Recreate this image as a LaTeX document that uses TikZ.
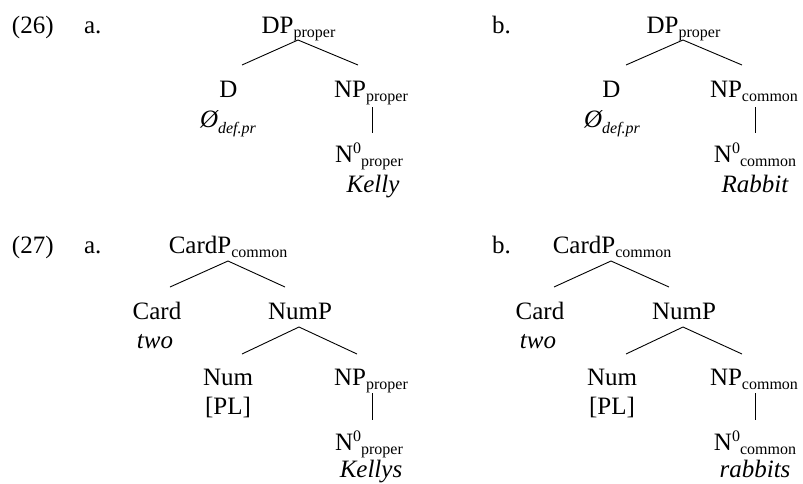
\documentclass[tikz,border=0pt]{standalone}
\usepackage{fontspec}
\setmainfont{Liberation Serif}
\usetikzlibrary{calc}

% category labels: subscripts and superscripts set inline, Word style
\newcommand\lsub[1]{\raisebox{-4pt}{\fontsize{16}{16}\selectfont #1}}
\newcommand\lsubit[1]{\raisebox{-6pt}{\fontsize{16}{16}\selectfont\itshape #1}}
\newcommand\lsup[1]{\raisebox{9pt}{\fontsize{16}{16}\selectfont #1}}

\begin{document}
\begin{tikzpicture}[x=1pt,y=-1pt,
  lbl/.style={inner sep=0pt,outer sep=0pt,anchor=base,font=\fontsize{25}{30}\selectfont},
  numlbl/.style={lbl,anchor=base west},
  branch/.style={line width=0.9pt,line cap=butt}]
\fill[white] (0,0) rectangle (803,483);
\useasboundingbox (0,0) rectangle (803,483);

% ---------- example numbers ----------
\node[numlbl] (ex26) at (12,33) {(26)};
\node[numlbl] (ex26a) at (84,33) {a.};
\node[numlbl] (ex26b) at (492,33) {b.};
\node[numlbl] (ex27) at (12,253) {(27)};
\node[numlbl] (ex27a) at (84,253) {a.};
\node[numlbl] (ex27b) at (492,253) {b.};

% ---------- (26a) ----------
\node[lbl] (dp1) at (298.5,33) {DP\lsub{proper}};
\node[lbl] (d1) at (228.5,97) {D};
\node[lbl] (d1w) at (228,127.5) {\itshape Ø\lsubit{def.pr}};
\node[lbl] (np1) at (371,97) {NP\lsub{proper}};
\node[lbl] (n1) at (369,162) {N\lsup{0}\lsub{proper}};
\node[lbl] (w1) at (373,192) {\itshape Kelly};
\draw[branch] ([shift={(-0.5,7)}]dp1.base) -- ([shift={(13.5,-32)}]d1.base);
\draw[branch] ([shift={(-0.5,7)}]dp1.base) -- ([shift={(-13,-32)}]np1.base);
\draw[branch] ($(np1.base)+(1,10)$) -- ($(np1.base |- n1.base)+(1,-29)$);

% ---------- (26b) ----------
\node[lbl] (dp2) at (683.5,33) {DP\lsub{proper}};
\node[lbl] (d2) at (611.5,97) {D};
\node[lbl] (d2w) at (612,127.5) {\itshape Ø\lsubit{def.pr}};
\node[lbl] (np2) at (754,97) {NP\lsub{common}};
\node[lbl] (n2) at (755,162) {N\lsup{0}\lsub{common}};
\node[lbl] (w2) at (755,192) {\itshape Rabbit};
\draw[branch] ([shift={(-0.5,7)}]dp2.base) -- ([shift={(14.5,-32)}]d2.base);
\draw[branch] ([shift={(-0.5,7)}]dp2.base) -- ([shift={(-12,-32)}]np2.base);
\draw[branch] ($(np2.base)+(1,10)$) -- ($(np2.base |- n2.base)+(1,-29)$);

% ---------- (27a) ----------
\node[lbl] (cp1) at (228,253) {CardP\lsub{common}};
\node[lbl] (card1) at (157,319) {Card};
\node[lbl] (two1) at (155,348) {\itshape two};
\node[lbl] (nump1) at (300,319) {NumP};
\node[lbl] (num1) at (228,385) {Num};
\node[lbl] (pl1) at (228,414.5) {[PL]};
\node[lbl] (np3) at (371,385) {NP\lsub{proper}};
\node[lbl] (n3) at (369,450) {N\lsup{0}\lsub{proper}};
\node[lbl] (w3) at (371,477) {\itshape Kellys};
\draw[branch] ([shift={(0,8)}]cp1.base) -- ([shift={(13,-32)}]card1.base);
\draw[branch] ([shift={(0,8)}]cp1.base) -- ([shift={(-15,-32)}]nump1.base);
\draw[branch] ([shift={(-1,8)}]nump1.base) -- ([shift={(14,-31)}]num1.base);
\draw[branch] ([shift={(-1,8)}]nump1.base) -- ([shift={(-14,-31)}]np3.base);
\draw[branch] ($(np3.base)+(1,8)$) -- ($(np3.base |- n3.base)+(1,-30)$);

% ---------- (27b) ----------
\node[lbl] (cp2) at (612,253) {CardP\lsub{common}};
\node[lbl] (card2) at (540,319) {Card};
\node[lbl] (two2) at (538,348) {\itshape two};
\node[lbl] (nump2) at (684,319) {NumP};
\node[lbl] (num2) at (612,385) {Num};
\node[lbl] (pl2) at (612,414.5) {[PL]};
\node[lbl] (np4) at (754,385) {NP\lsub{common}};
\node[lbl] (n4) at (755,450) {N\lsup{0}\lsub{common}};
\node[lbl] (w4) at (755,477) {\itshape rabbits};
\draw[branch] ([shift={(-1,8)}]cp2.base) -- ([shift={(14,-32)}]card2.base);
\draw[branch] ([shift={(-1,8)}]cp2.base) -- ([shift={(-15,-32)}]nump2.base);
\draw[branch] ([shift={(-1,8)}]nump2.base) -- ([shift={(14,-31)}]num2.base);
\draw[branch] ([shift={(-1,8)}]nump2.base) -- ([shift={(-12,-31)}]np4.base);
\draw[branch] ($(np4.base)+(1,8)$) -- ($(np4.base |- n4.base)+(1,-30)$);
\end{tikzpicture}
\end{document}
